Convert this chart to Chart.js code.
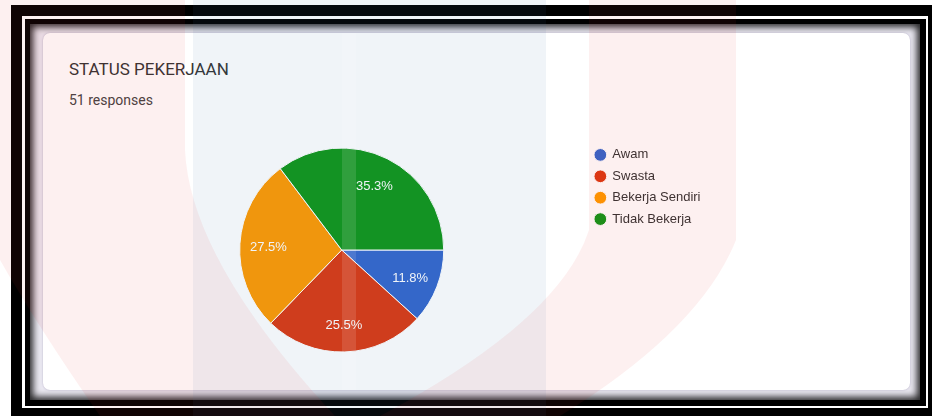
<!DOCTYPE html>
<html>
<head>
<meta charset="utf-8">
<script src="https://cdn.jsdelivr.net/npm/chart.js@4.4.0/dist/chart.umd.min.js"></script>
<style>
  html, body { margin: 0; padding: 0; }
  body { width: 932px; height: 416px; position: relative; overflow: hidden; background: #fff; font-family: Roboto, Arial, sans-serif; }
  .abs { position: absolute; }
  #outer { left: 11px; top: 5px; width: 921px; height: 411px; background: #000; }
  #whiteLine { left: 22px; top: 16px; width: 906px; height: 392px; background: #fff; }
  #innerBlack { left: 25px; top: 19px; width: 901px; height: 387px; background: #000; }
  #shade { left: 30px; top: 24px; width: 890px; height: 376px; background: #ebe9f2; box-shadow: inset 0 0 7px 3px rgba(0,0,0,0.85); }
  #card { left: 43px; top: 33px; width: 867px; height: 357px; background: #fff; border-radius: 7px; box-shadow: 0 0 2px rgba(120,110,150,0.5); }
  #title { left: 69px; top: 59px; font-size: 17px; color: #333; }
  #sub { left: 69px; top: 92px; font-size: 14px; color: #444; }
  #wrap { left: 43px; top: 140px; width: 700px; height: 220px; }
  #mark { left: 0; top: 0; width: 932px; height: 416px; pointer-events: none; }
</style>
</head>
<body>
<div id="outer" class="abs"></div>
<div id="whiteLine" class="abs"></div>
<div id="innerBlack" class="abs"></div>
<div id="shade" class="abs"></div>
<div id="card" class="abs"></div>
<div id="title" class="abs">STATUS PEKERJAAN</div>
<div id="sub" class="abs">51 responses</div>
<div id="wrap" class="abs"><canvas id="pie"></canvas></div>
<svg id="mark" class="abs" viewBox="0 0 932 416">
  <rect x="193" y="0" width="353" height="416" fill="rgb(70,120,170)" opacity="0.08"/>
  <rect x="342" y="33" width="14" height="357" fill="#fff" opacity="0.12"/>
  <path d="M0 0 L185 0 L185 150 Q190 260 335 416 L100 416 Q40 330 0 260 Z" fill="rgb(220,40,40)" opacity="0.07"/>
  <path d="M589 0 L736 0 L736 240 Q700 330 560 416 L380 416 Q560 320 589 230 Z" fill="rgb(220,40,40)" opacity="0.07"/>
</svg>
<script>
// survey answers: 51 responses
const categories = ['Awam', 'Swasta', 'Bekerja Sendiri', 'Tidak Bekerja'];
const counts = [6, 13, 14, 18];
const colors = ['#3366cc', '#dc3912', '#ff9900', '#109618'];

const total = counts.reduce((a, b) => a + b, 0);

// percent labels inside the slices
const sliceLabels = {
  id: 'sliceLabels',
  afterDatasetsDraw(chart) {
    const ctx = chart.ctx;
    const meta = chart.getDatasetMeta(0);
    ctx.save();
    ctx.font = '13px Arial, "Liberation Sans", sans-serif';
    ctx.fillStyle = '#fff';
    ctx.textAlign = 'center';
    ctx.textBaseline = 'middle';
    meta.data.forEach((arc, i) => {
      const p = arc.getProps(['x', 'y', 'startAngle', 'endAngle', 'outerRadius'], true);
      const mid = (p.startAngle + p.endAngle) / 2;
      const r = p.outerRadius * 0.72;
      const txt = (counts[i] / total * 100).toFixed(1) + '%';
      ctx.fillText(txt, p.x + Math.cos(mid) * r, p.y + Math.sin(mid) * r + 2);
    });
    ctx.restore();
  }
};

const pieChart = new Chart(document.getElementById('pie'), {
  type: 'pie',
  data: {
    labels: categories,
    datasets: [{
      data: counts,
      backgroundColor: colors,
      borderColor: '#fff',
      borderWidth: 1,
      hoverOffset: 0,
      radius: 102
    }]
  },
  options: {
    responsive: true,
    maintainAspectRatio: false,
    animation: false,
    rotation: 90,
    layout: { padding: { left: 54, right: 32.5, top: 0, bottom: 0 } },
    plugins: {
      tooltip: { enabled: false },
      legend: {
        position: 'right',
        align: 'start',
        labels: {
          usePointStyle: true,
          pointStyle: 'circle',
          boxWidth: 11,
          boxHeight: 9,
          padding: 8.4,
          color: '#333',
          font: { family: 'Arial, "Liberation Sans", sans-serif', size: 13 }
        }
      }
    }
  },
  plugins: [sliceLabels]
});
</script>
</body>
</html>
